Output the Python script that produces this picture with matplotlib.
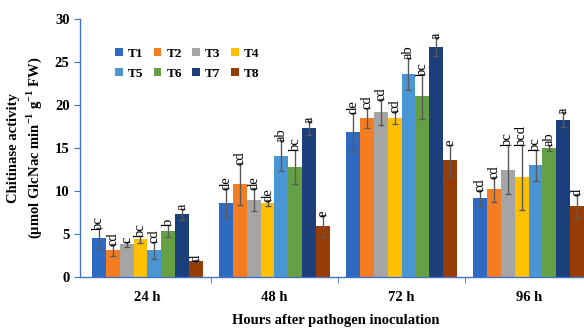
import numpy as np
import matplotlib.pyplot as plt

# Chitinase activity per treatment and time point
hours = ['24 h', '48 h', '72 h', '96 h']
treatments = ['T1', 'T2', 'T3', 'T4', 'T5', 'T6', 'T7', 'T8']

means = [
    [4.5, 3.1, 3.8, 4.4, 3.1, 5.4, 7.3, 1.9],           # T1..T8 at 24 h
    [8.6, 10.8, 9.0, 8.6, 14.1, 12.8, 17.3, 5.9],       # 48 h
    [16.9, 18.5, 19.2, 18.5, 23.6, 21.0, 26.8, 13.6],   # 72 h
    [9.2, 10.2, 12.5, 11.6, 13.0, 15.0, 18.3, 8.2],     # 96 h
]
errors = [
    [1.2, 0.7, 0.3, 0.4, 1.0, 0.7, 0.65, 0.1],
    [1.7, 2.4, 1.3, 0.3, 1.8, 2.0, 0.8, 1.3],
    [2.2, 1.2, 1.5, 0.75, 1.9, 2.6, 1.1, 1.8],
    [0.9, 1.45, 2.9, 3.8, 1.8, 0.4, 0.9, 1.4],
]
letters = [
    ['bc', 'cd', 'c', 'bc', 'cd', 'b', 'a', 'd'],
    ['de', 'cd', 'de', 'de', 'ab', 'bc', 'a', 'e'],
    ['de', 'cd', 'cd', 'cd', 'ab', 'bc', 'a', 'e'],
    ['cd', 'cd', 'bc', 'bcd', 'bc', 'ab', 'a', 'd'],
]
colors = ['#2E6AC2', '#F47D22', '#A5A5A5', '#FFC000',
          '#4A96D4', '#66A044', '#1B3F7A', '#983C06']

plt.rcParams['font.family'] = ['Liberation Serif', 'DejaVu Serif']
plt.rcParams['mathtext.fontset'] = 'custom'
plt.rcParams['mathtext.rm'] = 'Liberation Serif'
plt.rcParams['mathtext.bf'] = 'Liberation Serif:bold'

means = np.array(means)
errors = np.array(errors)
x = np.arange(len(hours))
w = 0.109

fig = plt.figure(figsize=(5.84, 3.30), dpi=100)
ax = fig.add_axes([0.137, 0.1606, 0.877, 0.7818])

handles = []
for i, t in enumerate(treatments):
    xs = x + (i - 3.5) * w
    b = ax.bar(xs, means[:, i], width=w, color=colors[i], label=t, zorder=2)
    handles.append(b)
    ax.errorbar(xs, means[:, i], yerr=errors[:, i], fmt='none',
                ecolor='#5a5a5a', elinewidth=1, capsize=2.2, capthick=1, zorder=3)
    for j in range(len(hours)):
        ax.text(xs[j], means[j, i] + errors[j, i] - 0.2, letters[j][i],
                rotation=90, ha='center', va='bottom', fontsize=10.5, zorder=4)

ax.set_xlim(-0.53, 3.5)
ax.set_ylim(0, 30)
ax.set_yticks(range(0, 31, 5))
ax.set_xticks(x)
ax.set_xticklabels(hours, fontsize=10.5, fontweight='bold')
ax.set_xticks([0.5, 1.5, 2.5], minor=True)
ax.tick_params(axis='x', which='major', length=0, pad=10)
ax.tick_params(axis='x', which='minor', length=4, color='#4472C4')
ax.tick_params(axis='y', length=4, color='#4472C4', labelsize=10.5)
for lab in ax.get_yticklabels():
    lab.set_fontweight('bold')

for s in ['top', 'right']:
    ax.spines[s].set_visible(False)
for s in ['left', 'bottom']:
    ax.spines[s].set_color('#4472C4')
    ax.spines[s].set_linewidth(1)

ax.set_xlabel('Hours after pathogen inoculation', fontsize=10.5,
              fontweight='bold', labelpad=7)
ax.set_ylabel('Chitinase activity\n(µmol GlcNac min$^{\\mathbf{-1}}$ g$^{\\mathbf{-1}}$ FW)',
              fontsize=10.5, fontweight='bold', labelpad=8, linespacing=1.3)

# legend filled row by row: T1..T4 on top, T5..T8 below
order = [0, 4, 1, 5, 2, 6, 3, 7]
ax.legend([handles[k] for k in order], [treatments[k] for k in order],
          ncol=4, loc='upper left', bbox_to_anchor=(0.045, 0.935),
          frameon=False, handlelength=0.6, handleheight=0.6,
          handletextpad=0.4, columnspacing=0.75, labelspacing=0.6,
          prop={'weight': 'bold', 'size': 9.5})

fig.savefig('out.png', dpi=100)
